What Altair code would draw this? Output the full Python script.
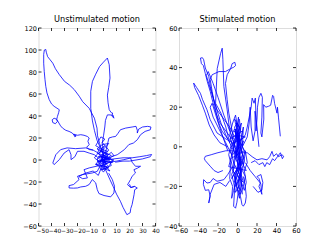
import altair as alt
import pandas as pd

# ---------------- data: trajectories (x, y) ----------------
# Left panel: "Unstimulated motion"
U_loop_left = [(0,2),(-1,8),(-3,15),(-4.6,22),(-5,29),(-7,38),(-11,47),(-16,53),(-18.7,58),(-22.5,64),(-26,68),
               (-30,71.5),(-34,77.6),(-37,83),(-39,88),(-41,91),(-43,94),(-44,98),(-44.4,100.5),(-45.5,100),(-46,96),
               (-46,88),(-45.6,80.6),(-45,73),(-44.4,67),(-43.5,61),(-41.8,55),(-40,51),(-38,48.8),(-34,45.7),
               (-34.5,43),(-35.4,39.7),(-36,37),(-38,38),(-39.5,36.5),(-39,34),(-37,33),(-35.5,35),(-36,37),
               (-33,31),(-31.5,29),(-29,27),(-26.5,26),(-24,24.5),(-23,23),(-21,22),(-22,21),(-23,23.5),(-20,22.5),
               (-17.5,23),(-15,22.5),(-12.4,21.4),(-11,20),(-12,17),(-11,14),(-13,11.5),(-11,9.5),(-8,9),(-5,7),
               (-2,4),(0,2)]
U_loop_top = [(1,3),(-2,10),(-5,18),(-7,27),(-8.5,35.5),(-9.8,47),(-9.8,62.5),(-8.5,71.5),(-6,78),(-3,85),(0,89),
              (3,92.7),(4.4,86.6),(5,74.5),(4,66),(3,59),(3.5,52),(4.4,45.7),(6,43),(7,42.7),(6.5,40),(8,38),
              (7.5,40.5),(5,41),(3,41),(1.5,36),(1,30),(0,22),(-1,15),(0,8)]
U_upper_right = [(0,5),(2,9),(4.2,20),(7,21),(9.3,21.4),(11,24),(13,27.5),(17,29),(22,30),(25,30.6),(26,27),
                 (26,24.5),(27,28),(30,30),(34,30.6),(36.5,30),(36,27.5),(32,26),(28.5,23),(26,18.4),(23,15.4),
                 (19.5,14),(16,9.4),(10.6,4.8),(6,3)]
U_right_line = [(2,0),(8,1),(15,2),(22,2),(28,3),(33,4),(37,5),(36,3),(30,1),(25,0),(20,-1),(15,-1),(9,-2)]
U_right_low = [(5,-2),(10,-1),(15.7,0.3),(20.8,1.8),(22,-2),(24.6,-5.7),(28.5,-5.7),(26,-7.5),(23.4,-8.8),
               (24.6,-11.8),(22,-14.8),(20.8,-17.8),(18.5,-22.5),(21,-25),(24,-24)]
U_diag_down = [(0,-5),(2,-10),(5,-18),(8,-25.5),(10,-31),(13,-37.5),(15,-43),(18,-49.7),(20.5,-48),(21,-44),
               (22,-40.5),(23.5,-31.5),(24,-27),(26,-25.5),(24,-24),(21,-25),(20,-22)]
U_left = [(-3,1),(-7,4.8),(-11,6.3),(-15,7.9),(-20,7.9),(-22,3),(-25,0.3),(-25,4.8),(-26.5,9.4),(-30.3,6.3),
          (-34,0.3),(-38,-4.2),(-39,-2.7),(-36.7,4.8),(-33,9.4),(-28,11),(-21.4,10.3),(-13.7,11),(-8,9)]
U_low_left = [(-2,-4),(-4.8,-10.3),(-8.6,-11.8),(-16.3,-13.3),(-20,-14.8),(-18.8,-17.8),(-23,-22.3),(-26.5,-23.3),
              (-26.5,-25.4),(-23,-25.6),(-20,-25.4),(-17.5,-24.5),(-13.7,-23.9),(-11,-22.3),(-8.6,-17.8),
              (-6,-20.8),(-4.8,-26.9),(-3.5,-30.5),(0.4,-32.3),(5.5,-33.5),(8,-30),(8.5,-23.9),(6.8,-17.8),(4,-12)]
U_low_left2 = [(-3,-5),(-11,-7.2),(-15,-8.8),(-12.4,-16.3),(-16,-17),(-19,-15),(-14,-12),(-8,-10),(-4,-14),(-2,-8)]
U_center = [(0,0),(2,3),(-1,5),(3,8),(-2,10),(1,13),(-3,8),(4,5),(-4,3),(5,1),(-5,-1),(3,-3),(-2,-5),(4,-7),
            (-1,-9),(2,-3),(-3,0),(5,2),(-4,6),(1,11),(4,15),(-1,14),(-5,10),(1,7),(6,4),(-1,-1),(7,-2),(-6,-4),
            (2,-6),(5,-10),(-1,-7),(-4,-2),(3,2),(-2,3),(8,0),(1,-4),(-3,-7),(0,-11),(3,-5),(-2,4),(2,1),(-1,-2),
            (4,-1),(0,3),(-3,-3),(2,6),(6,-5),(-2,-9),(1,0)]
U_center2 = [(0,0),(-3,-2),(-5,1),(-2,3),(-4,6),(-1,8),(2,6),(4,9),(2,12),(-1,16),(1,19),(-2,21),(-4,17),(-6,13),
             (-3,11),(-5,5),(-7,2),(-4,-1),(-6,-4),(-3,-6),(0,-4),(3,-7),(5,-4),(7,-1),(5,2),(8,4),(6,7),(3,4),
             (1,1),(-2,-1),(-1,2),(1,-2),(3,1),(0,5),(-2,1),(2,-1),(0,-2)]

# Right panel: "Stimulated motion"
S_top_left = [(-3,5),(-8,10),(-14,14),(-21,18.7),(-24.4,23.8),(-27.9,30.5),(-29.5,35.6),(-33,39.8),(-34.7,44),
              (-36,45),(-38,44.8),(-37,42),(-35,41),(-33,37),(-31,33),(-28,28),(-25,22),(-22,17),(-18,12),(-12,8),(-6,4)]
S_left_line = [(-5,2),(-12,4),(-18,6),(-21,7),(-28,13.7),(-31.3,18.7),(-36,24),(-38,27),(-42,30),(-45,32.2),(-44,30),
               (-40,26),(-36,21),(-33,17),(-29,11),(-24,6),(-18,2),(-10,0)]
S_spike = [(-8,2),(-12,10),(-17,17),(-22.5,22),(-20.8,39.5),(-17.4,47),(-15.7,49.8),(-15,44),(-14,30.5),
           (-10.6,18.7),(-8,8)]
S_loop = [(-4,4),(-7,12),(-8.9,17),(-10.6,23.8),(-12.3,32),(-10.6,36.4),(-7,39.5),(-5.5,42),(-2.7,42.7),(-2,41),
          (-3.8,40.2),(-7,39.5),(-12.3,38),(-19,38),(-26,36.4),(-28,34),(-26,28),(-23,20),(-20,13),(-16,8),(-10,4)]
S_diag1 = [(-2,0),(-8,8),(-14,16),(-20,25),(-25,32),(-30,38),(-32,36),(-27,28),(-22,20),(-17,12),(-12,6),(-6,0)]
S_diag2 = [(-5,-5),(-12,2),(-18,8),(-25,15),(-28,20),(-26,22),(-21,14),(-15,5),(-10,-2)]
S_right_up = [(3,3),(8,6),(10,10),(12,15),(14,20),(15,24.6),(17,22),(18.3,24.6),(19,15),(19,8),(20,14),(20.5,20),
              (22,25),(24,27),(25.5,25),(25,15),(24,7),(25,5),(27,14),(26.8,21.3),(29,20),(32,20.5),(34,21),(36,26),
              (37,25.5),(38,22),(40.5,17),(41,20),(42,15),(43,10),(43.9,5.3)]
S_right_up2 = [(5,0),(10,5),(12,12),(13,20),(14,10),(16,3),(18,8),(18,18),(20,10),(22,0)]
S_right = [(5,-3),(10,-3),(15,-5),(20,-6.6),(25,-6),(30.3,-6.6),(33,-5),(35.4,-2.3),(37,-4.8),(40,-3.5),(42,-5),
           (45.6,-4),(47.4,-4.8),(46,-6),(44,-3),(41,-5),(38,-7),(36,-6),(33,-9),(30,-8),(28,-10),(26,-8),(22,-9),
           (18,-7),(14,-8)]
S_low_left = [(-5,-2),(-12,-2),(-21,-3.1),(-27,-4),(-33,-4.8),(-34,-6),(-33,-7),(-28,-9.8),(-24,-12),(-20,-13),(-15,-12)]
S_low_left2 = [(-5,-10),(-10,-14),(-14,-16.6),(-21,-17.4),(-25,-16),(-28,-18),(-31.3,-18.3),(-34.7,-16.6),(-35,-19),
               (-33,-22),(-29.5,-21.7),(-28,-25),(-29.5,-28.4),(-28,-24),(-24,-19),(-18,-18),(-12,-20),(-8,-17)]
S_bottom = [(-2,-15),(-3,-22),(-4,-30),(-2,-31),(-0.6,-28),(1,-22),(3,-25),(4.6,-29.2),(6,-30),(8,-28.4),(9,-25),
            (8,-20),(6,-15)]
S_right_low = [(8,-8),(13,-12),(18,-15),(23.4,-18.3),(22,-20),(23.4,-21.7),(25,-24),(24,-19),(22,-16),(20,-15),
               (24,-14),(26,-18),(25,-22),(21,-23),(16,-20)]
S_center = [(0,0),(2,10),(-3,14),(1,5),(-4,-8),(3,-15),(-2,-20),(5,-10),(-6,0),(4,12),(-1,-5),(6,-18),(-5,-12),
            (2,3),(-3,8),(7,-2),(-7,-6),(0,-22),(4,-12),(-2,6),(8,5),(-4,2),(3,-8),(-6,-16),(1,-10),(5,8),(-8,4),
            (2,-4),(-1,12),(6,-6),(-3,-18),(3,0),(-5,-4),(1,15),(4,-20),(-2,-2),(9,-12),(-9,-10),(0,7),(5,-24)]
S_center2 = [(0,-5),(-2,-2),(1,2),(-1,6),(2,9),(0,12),(-3,10),(-1,4),(-4,0),(-2,-6),(1,-9),(-1,-13),(2,-16),(0,-19),
             (3,-22),(1,-17),(4,-13),(2,-8),(5,-4),(3,0),(6,3),(4,-2),(7,-7),(5,-12),(8,-15),(6,-20),(3,-24),(1,-20),
             (-2,-23),(-4,-18),(-6,-14),(-3,-10),(-5,-6),(-7,-2),(-4,2),(-6,6),(-3,9),(0,6),(2,1),(-1,-3)]
S_center3 = [(2,14),(3,8),(0,3),(-2,9),(1,-1),(4,5),(6,10),(5,0),(8,-3),(6,-9),(3,-5),(1,-11),(-3,-15),(-1,-20),
             (2,-26),(4,-18),(7,-22),(9,-18),(7,-12),(10,-8),(8,-2),(4,-8),(0,-14),(-4,-22),(-6,-26),(-5,-20),
             (-8,-16),(-7,-8),(-9,-4),(-6,2),(-8,6),(-5,12),(-2,16),(0,10)]

U_tracks = [U_loop_left, U_loop_top, U_upper_right, U_right_line, U_right_low, U_diag_down, U_left,
            U_low_left, U_low_left2, U_center, U_center2]
S_tracks = [S_top_left, S_left_line, S_spike, S_loop, S_diag1, S_diag2, S_right_up, S_right_up2, S_right,
            S_low_left, S_low_left2, S_bottom, S_right_low, S_center, S_center2, S_center3]

U_xticks = list(range(-50, 41, 10))
U_yticks = list(range(-60, 121, 20))
S_xticks = list(range(-60, 61, 20))
S_yticks = list(range(-40, 61, 20))

TITLES = ["Unstimulated motion", "Stimulated motion"]

W, H = 117, 198
TL = 3
FONT = "DejaVu Sans"
LFS = 6.5


def tracks_df(tracks):
    rows = []
    for t, tr in enumerate(tracks):
        for i, (x, y) in enumerate(tr):
            rows.append({"traj": t, "i": i, "x": x, "y": y})
    return pd.DataFrame(rows)


def panel(tracks, xdom, ydom, xticks, yticks, title, xlabel_shift, xfs):
    xs = alt.Scale(domain=xdom, nice=False, zero=False)
    ys = alt.Scale(domain=ydom, nice=False, zero=False)
    xax = alt.Axis(values=xticks, format="d", ticks=False, domain=False, grid=False, labelPadding=1.5,
                   labelOverlap=False, labelFlush=False, labelFontSize=xfs, labelFont=FONT, labelColor="black",
                   labelOffset={"expr": f"datum.value < 0 ? -{xlabel_shift}*datum.value : 0"},
                   title=None)
    yax = alt.Axis(values=yticks, format="d", ticks=False, domain=False, grid=False, labelPadding=2,
                   labelOverlap=False, labelFlush=False, labelFontSize=LFS, labelFont=FONT, labelColor="black",
                   title=None)
    lines = alt.Chart(tracks_df(tracks)).mark_line(color="#0000ff", strokeWidth=0.8, clip=True).encode(
        x=alt.X("x:Q", scale=xs, axis=xax, title=None),
        y=alt.Y("y:Q", scale=ys, axis=yax, title=None),
        detail="traj:N",
        order="i:Q",
    )
    xt = pd.DataFrame({"v": xticks})
    yt = pd.DataFrame({"v": yticks})
    tb = alt.Chart(xt).mark_rule(color="black", strokeWidth=0.8)
    bot = tb.encode(x=alt.X("v:Q", scale=xs, axis=xax, title=None), y=alt.value(H), y2=alt.value(H - TL))
    top = tb.encode(x=alt.X("v:Q", scale=xs, axis=xax, title=None), y=alt.value(0), y2=alt.value(TL))
    lb = alt.Chart(yt).mark_rule(color="black", strokeWidth=0.8)
    lef = lb.encode(y=alt.Y("v:Q", scale=ys, axis=yax, title=None), x=alt.value(0), x2=alt.value(TL))
    rig = lb.encode(y=alt.Y("v:Q", scale=ys, axis=yax, title=None), x=alt.value(W), x2=alt.value(W - TL))
    return alt.layer(lines, bot, top, lef, rig).properties(
        width=W, height=H,
        title=alt.TitleParams(title, fontSize=8.2, font=FONT, fontWeight="normal", color="black", offset=1),
    )


left = panel(U_tracks, [-50, 40], [-60, 120], U_xticks, U_yticks, TITLES[0], 0.075, 5.9)
right = panel(S_tracks, [-60, 60], [-40, 60], S_xticks, S_yticks, TITLES[1], 0.03, LFS)

chart = alt.hconcat(left, right, spacing=23.5, bounds="flush").properties(
    padding={"left": 13.5, "top": 6, "right": 5, "bottom": 5}
).configure_view(stroke="black", strokeWidth=1).configure(background="white")

chart.save("out.html", embed_options={"renderer": "svg", "actions": False})
